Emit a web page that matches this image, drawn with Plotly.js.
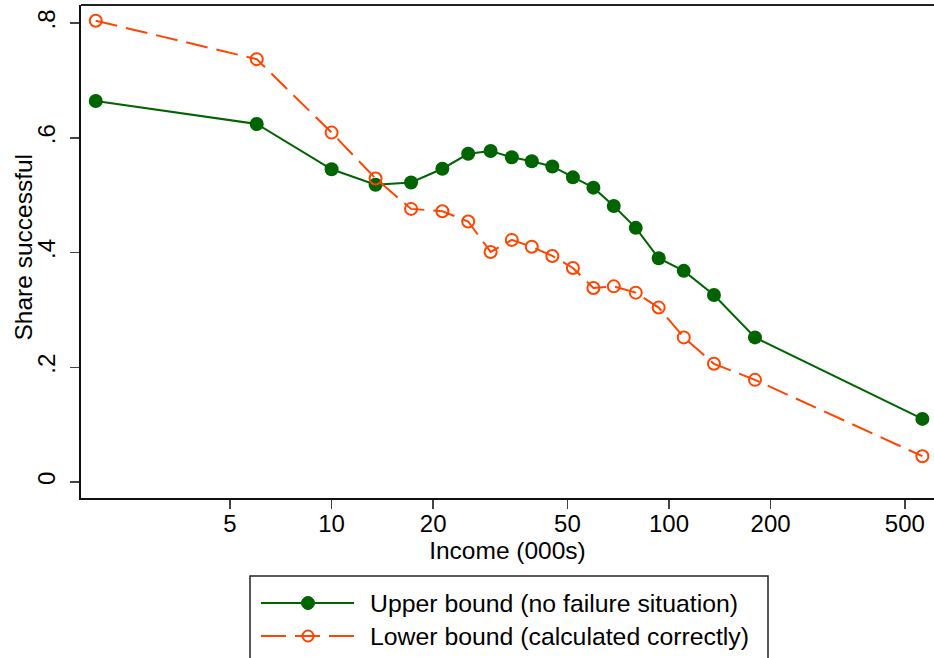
<!DOCTYPE html>
<html>
<head>
<meta charset="utf-8">
<script src="https://cdn.plot.ly/plotly-3.0.1.min.js"></script>
<style>html,body{margin:0;padding:0;background:#fff;overflow:hidden}</style>
</head>
<body>
<div id="chart" style="width:934px;height:658px"></div>
<script>
// Data
const income = [2, 6, 10, 13.5, 17.2, 21.3, 25.4, 29.6, 34.2, 39.2, 45.1, 51.9, 59.7, 68.6, 79.7, 93.2, 110.6, 135.9, 179.8, 563.6];
const upperBound = [0.664, 0.624, 0.545, 0.518, 0.522, 0.546, 0.572, 0.577, 0.566, 0.559, 0.550, 0.531, 0.513, 0.481, 0.443, 0.390, 0.368, 0.326, 0.252, 0.110];
const lowerBound = [0.804, 0.737, 0.609, 0.529, 0.476, 0.472, 0.454, 0.401, 0.422, 0.410, 0.394, 0.373, 0.338, 0.341, 0.330, 0.304, 0.252, 0.206, 0.178, 0.045];
const seriesNames = ["Upper bound (no failure situation)", "Lower bound (calculated correctly)"];
const xTitle = "Income (000s)";
const yTitle = "Share successful";
const xTickVals = [5, 10, 20, 50, 100, 200, 500];
const xTickText = ["5", "10", "20", "50", "100", "200", "500"];
const yTickVals = [0, 0.2, 0.4, 0.6, 0.8];
const yTickText = ["0", ".2", ".4", ".6", ".8"];

const GREEN = "#006400";
const ORANGE = "#ff4500";
const FONT = "Arial, 'Liberation Sans', Helvetica, sans-serif";

const W = 934, H = 658;
const M = {l: 81, r: 0, t: 5, b: 160};
const PW = W - M.l - M.r, PH = H - M.t - M.b;
const px = x => (x - M.l) / PW;
const py = y => (H - M.b - y) / PH;

const traces = [
  {
    x: income, y: upperBound, name: seriesNames[0], type: "scatter", mode: "lines+markers",
    line: {color: GREEN, width: 2},
    marker: {symbol: "circle", size: 14, color: GREEN},
    showlegend: false
  },
  {
    x: income, y: lowerBound, name: seriesNames[1], type: "scatter", mode: "lines+markers",
    line: {color: ORANGE, width: 2, dash: "22px,9px"},
    marker: {symbol: "circle-open", size: 12, color: ORANGE, line: {color: ORANGE, width: 2}},
    showlegend: false
  }
];

const legY1 = 603, legY2 = 636;
const shapes = [
  {type: "line", xref: "paper", yref: "paper", x0: 0, x1: 1, y0: 1, y1: 1, line: {color: "#222", width: 2}},
  {type: "rect", xref: "paper", yref: "paper", x0: px(250), x1: px(768), y0: py(576), y1: py(720),
   line: {color: "#222", width: 1.5}, fillcolor: "#fff"},
  {type: "line", xref: "paper", yref: "paper", x0: px(261), x1: px(354), y0: py(legY1), y1: py(legY1),
   line: {color: GREEN, width: 2}},
  {type: "circle", xref: "paper", yref: "paper", x0: px(301.5), x1: px(314.5), y0: py(legY1 + 6.5), y1: py(legY1 - 6.5),
   line: {color: GREEN, width: 1}, fillcolor: GREEN},
  {type: "line", xref: "paper", yref: "paper", x0: px(261), x1: px(354), y0: py(legY2), y1: py(legY2),
   line: {color: ORANGE, width: 2, dash: "25px,9px"}},
  {type: "circle", xref: "paper", yref: "paper", x0: px(302.5), x1: px(313.5), y0: py(legY2 + 5.5), y1: py(legY2 - 5.5),
   line: {color: ORANGE, width: 2}, fillcolor: "rgba(0,0,0,0)"}
];

const annotations = [
  {xref: "paper", yref: "paper", x: px(368), y: py(legY1), xanchor: "left", yanchor: "middle", showarrow: false,
   text: seriesNames[0], font: {family: FONT, size: 24.8, color: "#000"}},
  {xref: "paper", yref: "paper", x: px(368), y: py(legY2), xanchor: "left", yanchor: "middle", showarrow: false,
   text: seriesNames[1], font: {family: FONT, size: 24.8, color: "#000"}},
  {xref: "paper", yref: "paper", x: px(23), y: py(247.5), xanchor: "center", yanchor: "middle", showarrow: false,
   textangle: -90, text: yTitle, font: {family: FONT, size: 24.5, color: "#000"}}
];

const layout = {
  width: W, height: H, margin: M,
  paper_bgcolor: "#fff", plot_bgcolor: "#fff",
  font: {family: FONT, size: 24, color: "#000"},
  showlegend: false,
  xaxis: {
    type: "log", range: [0.2573, 2.7854],
    tickmode: "array", tickvals: xTickVals, ticktext: xTickText,
    ticks: "outside", ticklen: 9, tickwidth: 1.5, tickcolor: "#444",
    showline: true, linecolor: "#111", linewidth: 2,
    showgrid: false, zeroline: false, automargin: false,
    ticklabelstandoff: -6,
    tickfont: {family: FONT, size: 24, color: "#000"},
    title: {text: xTitle, font: {family: FONT, size: 24.5, color: "#000"}, standoff: 0}
  },
  yaxis: {
    range: [-0.0279, 0.8314],
    tickmode: "array", tickvals: yTickVals, ticktext: yTickText, tickangle: -90,
    ticks: "outside", ticklen: 9, tickwidth: 1.5, tickcolor: "#444",
    showline: true, linecolor: "#111", linewidth: 2,
    showgrid: false, zeroline: false, automargin: false,
    ticklabelstandoff: 5,
    tickfont: {family: FONT, size: 24, color: "#000"}
  },
  shapes: shapes,
  annotations: annotations
};

Plotly.newPlot("chart", traces, layout, {staticPlot: true, displayModeBar: false});
</script>
</body>
</html>
